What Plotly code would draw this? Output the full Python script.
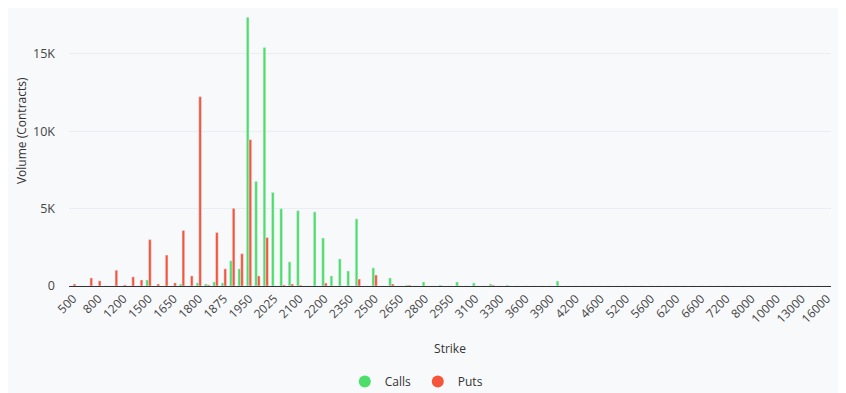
import plotly.graph_objects as go

strikes = [500, 600, 700, 800, 1000, 1100, 1200, 1300, 1400, 1500,
           1550, 1600, 1650, 1700, 1750, 1800, 1825, 1850, 1875, 1900,
           1925, 1950, 1975, 2000, 2025, 2050, 2075, 2100, 2125, 2150,
           2200, 2250, 2300, 2350, 2400, 2450, 2500, 2550, 2600, 2650,
           2700, 2750, 2800, 2850, 2900, 2950, 3000, 3050, 3100, 3150,
           3200, 3300, 3400, 3500, 3600, 3700, 3800, 3900, 4000, 4100,
           4200, 4400, 4500, 4600, 4800, 5000, 5200, 5400, 5500, 5600,
           5800, 6000, 6200, 6400, 6500, 6600, 6800, 7000, 7200, 7500,
           7600, 8000, 8500, 9000, 10000, 11000, 12000, 13000, 14000, 15000,
           16000]

calls = [0, 0, 0, 0, 0, 0, 0, 0, 0, 390,
         0, 0, 0, 130, 0, 200, 130, 260, 200, 1630,
         1110, 17370, 6760, 15420, 6050, 5000, 1560, 4870, 0, 4790,
         3100, 650, 1750, 970, 4340, 0, 1170, 0, 520, 0,
         60, 0, 260, 0, 60, 0, 260, 0, 200, 0,
         130, 0, 60, 0, 0, 0, 0, 0, 320, 0,
         0, 0, 0, 0, 0, 0, 0, 0, 0, 0,
         0, 0, 0, 0, 0, 0, 0, 0, 0, 0,
         0, 0, 0, 0, 0, 0, 0, 0, 0, 0,
         0]

puts = [130, 0, 520, 330, 0, 1020, 70, 590, 390, 3000,
        130, 2000, 200, 3590, 650, 12240, 70, 3460, 1110, 5020,
        2090, 9460, 650, 3130, 0, 70, 130, 60, 0, 0,
        190, 0, 0, 0, 450, 0, 710, 0, 130, 0,
        60, 0, 0, 0, 0, 0, 0, 0, 0, 0,
        60, 0, 0, 0, 0, 0, 0, 0, 0, 0,
        0, 0, 0, 0, 0, 0, 0, 0, 0, 0,
        0, 0, 0, 0, 0, 0, 0, 0, 0, 0,
        0, 0, 0, 0, 0, 0, 0, 0, 0, 0,
        0]

y_tickvals = [0, 5000, 10000, 15000]
y_ticktext = ["0", "5K", "10K", "15K"]

GREEN = "#4CDE68"
RED = "#F4553B"
BG = "#F8F9FB"

cats = [str(s) for s in strikes]

fig = go.Figure()
fig.add_trace(go.Bar(x=cats, y=calls, name="Calls", marker_color=GREEN, showlegend=False))
fig.add_trace(go.Bar(x=cats, y=puts, name="Puts", marker_color=RED, showlegend=False))
fig.add_trace(go.Scatter(x=[None], y=[None], mode="markers", name="Calls",
                         marker=dict(color=GREEN, size=12, symbol="circle")))
fig.add_trace(go.Scatter(x=[None], y=[None], mode="markers", name="Puts",
                         marker=dict(color=RED, size=12, symbol="circle")))

fig.update_layout(
    width=838, height=385,
    paper_bgcolor=BG, plot_bgcolor=BG,
    font=dict(family="Open Sans", size=12, color="#444"),
    barmode="group", bargap=0.36, bargroupgap=0,
    margin=dict(l=54, r=15, t=0, b=107),
    showlegend=True,
    legend=dict(orientation="h", xref="container", yref="container",
                x=0.489, xanchor="center", y=0.03, yanchor="middle",
                entrywidth=28, entrywidthmode="pixels",
                font=dict(size=12, color="#333"), bgcolor="rgba(0,0,0,0)"),
    xaxis=dict(type="category", categoryorder="array", categoryarray=cats,
               tickangle=-45, tickfont=dict(size=12, color="#444"),
               showgrid=False, showline=True, linecolor="#333", linewidth=1,
               ticks="", dtick=3,
               title=dict(text="Strike", font=dict(size=12, color="#333"), standoff=18)),
    yaxis=dict(range=[0, 17970], tickvals=y_tickvals, ticktext=y_ticktext,
               tickfont=dict(size=12.5, color="#444"),
               showgrid=True, gridcolor="#E9EEF4", gridwidth=1,
               zeroline=False, ticks="", ticklabelstandoff=13,
               title=dict(text="")),
    annotations=[dict(text="Volume (Contracts)", textangle=-90, xref="paper", yref="paper",
                      x=-0.063, y=0.561, xanchor="center", yanchor="middle",
                      showarrow=False, font=dict(size=12, color="#333"))],
)

fig.write_html("out.html")
